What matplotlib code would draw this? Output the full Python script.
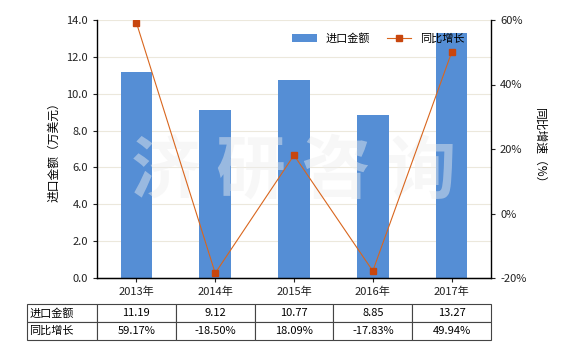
import matplotlib
matplotlib.use("Agg")
import matplotlib.pyplot as plt
import numpy as np

plt.rcParams['font.family'] = ['Noto Sans CJK SC', 'DejaVu Sans']

years = ['2013年', '2014年', '2015年', '2016年', '2017年']
amount = [11.19, 9.12, 10.77, 8.85, 13.27]
growth = [59.17, -18.50, 18.09, -17.83, 49.94]
amount_labels = ['11.19', '9.12', '10.77', '8.85', '13.27']
growth_labels = ['59.17%', '-18.50%', '18.09%', '-17.83%', '49.94%']

bar_color = '#558ED5'
line_color = '#D9661E'
marker_color = '#C8460E'

fig = plt.figure(figsize=(5.8, 3.5), dpi=100)
W, H = 580, 350
left, right, top, bottom = 97, 491, 20, 278
ax = fig.add_axes([left / W, 1 - bottom / H, (right - left) / W, (bottom - top) / H])
ax2 = ax.twinx()

x = np.arange(len(years))
ax.bar(x, amount, width=0.4, color=bar_color, label='进口金额', zorder=2)
ax.set_xlim(-0.5, len(years) - 0.5)
ax.set_ylim(0, 14)
ax.set_yticks(np.arange(0, 14.1, 2))
ax.set_yticklabels([f'{v:.1f}' for v in np.arange(0, 14.1, 2)])
ax.yaxis.grid(True, color='#ECE8DC', linewidth=0.8, zorder=0)
ax.set_axisbelow(True)
ax.set_xticks(x)
ax.set_xticklabels(years)
ax.set_ylabel('进口金额（万美元）', fontsize=8.5)

# watermark, above the bars but under the line
ax.text(0.5, 0.41, '济 研 咨 询', transform=ax.transAxes, fontsize=50, color='#EEEEEE',
        alpha=0.45, ha='center', va='center', fontweight='bold', zorder=2.5)

ax2.plot(x, growth, color=line_color, linewidth=0.8, marker='s', markersize=4,
         markerfacecolor=marker_color, markeredgecolor=marker_color, label='同比增长', zorder=3)
ax2.set_ylim(-20, 60)
ax2.set_yticks([-20, 0, 20, 40, 60])
ax2.set_yticklabels(['-20%', '0%', '20%', '40%', '60%'])
ax2.set_ylabel('同比增速（%）', fontsize=8.5, rotation=270, labelpad=14)

for a in (ax, ax2):
    a.tick_params(labelsize=8, length=3, width=0.8, colors='#222222')
    a.spines['top'].set_visible(False)
ax.spines['right'].set_visible(False)
ax2.spines['left'].set_visible(False)
ax2.spines['right'].set_linewidth(1)
ax.spines['left'].set_linewidth(1)
ax.spines['bottom'].set_linewidth(1)

h1, l1 = ax.get_legend_handles_labels()
h2, l2 = ax2.get_legend_handles_labels()
ax2.legend(h1 + h2, l1 + l2, loc='upper right', bbox_to_anchor=(0.95, 0.975), ncol=2,
           frameon=False, fontsize=8, handlelength=2.2, columnspacing=1.5,
           borderaxespad=0.2)

# data table
tab_left, tab_top, tab_bottom = 27, 304, 340
first_w = left - tab_left
col_w = (right - left) / len(years)
cells = [['进口金额'] + amount_labels, ['同比增长'] + growth_labels]
widths = [first_w] + [col_w] * len(years)
tax = fig.add_axes([tab_left / W, 1 - tab_bottom / H, (right - tab_left) / W, (tab_bottom - tab_top) / H])
tax.axis('off')
tbl = tax.table(cellText=cells, colWidths=[w / sum(widths) for w in widths],
                bbox=[0, 0, 1, 1], cellLoc='center')
tbl.auto_set_font_size(False)
tbl.set_fontsize(8)
for (r, c), cell in tbl.get_celld().items():
    cell.set_edgecolor('#444444')
    cell.set_linewidth(0.8)
    if c == 0:
        cell.get_text().set_ha('left')
        cell.PAD = 0.03

fig.savefig('out.png', dpi=100)
